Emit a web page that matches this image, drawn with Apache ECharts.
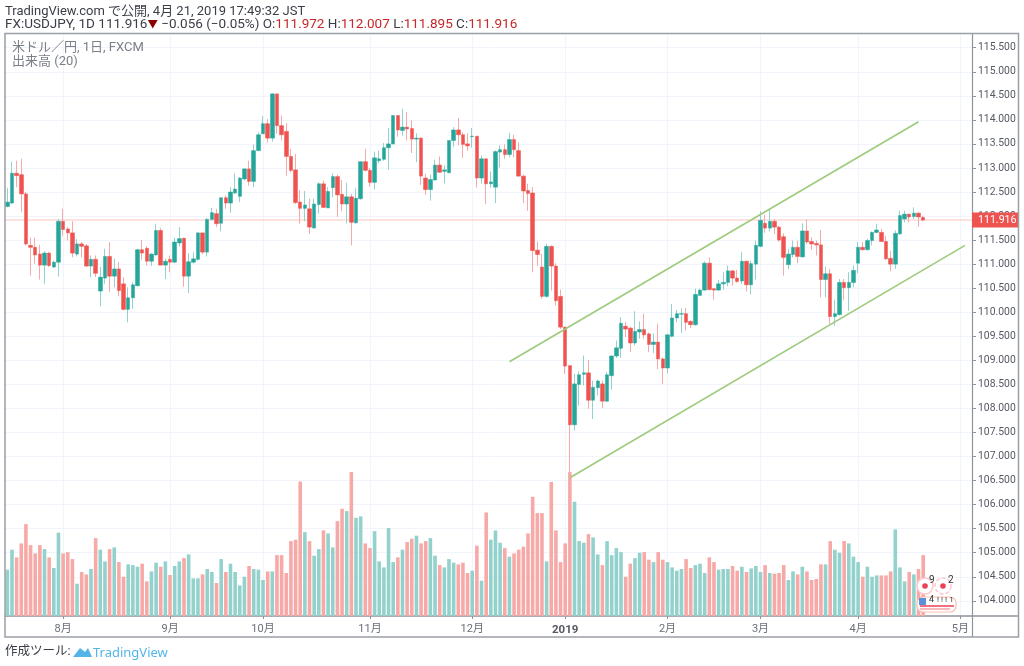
<!DOCTYPE html>
<html><head><meta charset="utf-8">
<style>html,body{margin:0;padding:0;background:#fff}#c{width:1024px;height:666px}</style>
<script src="https://cdn.jsdelivr.net/npm/echarts@6/dist/echarts.min.js"></script>
</head><body><div id="c"></div>
<script>
const open=[112.20,112.27,112.89,112.86,112.46,111.39,111.35,111.21,110.98,111.23,110.94,111.04,111.89,111.73,111.65,111.21,111.42,111.38,110.96,111.10,110.44,110.71,111.16,110.75,110.90,110.59,110.06,110.30,110.55,111.30,111.33,111.06,111.19,111.70,110.98,111.10,111.04,111.44,111.54,110.75,111.04,111.10,111.65,111.25,111.93,112.05,111.85,112.38,112.27,112.48,112.41,112.77,112.98,112.72,113.36,113.71,113.92,113.62,114.54,113.88,113.76,113.24,112.96,112.29,112.16,112.15,111.75,112.24,112.67,112.17,112.59,112.82,112.45,112.25,112.40,111.86,112.36,113.13,112.95,112.70,113.15,113.18,113.42,113.50,114.09,113.78,113.85,113.82,113.60,113.62,112.79,112.55,112.75,113.06,112.93,112.90,113.57,113.79,113.69,113.50,113.65,113.66,112.79,113.19,112.67,112.60,113.33,113.38,113.28,113.59,113.36,112.83,112.53,112.48,111.29,110.94,110.33,111.37,110.96,110.33,109.69,108.89,107.66,108.50,108.71,108.74,108.17,108.43,108.51,108.15,108.68,109.09,109.25,109.71,109.67,109.36,109.59,109.64,109.55,109.33,109.38,109.03,108.84,109.50,109.88,109.96,109.97,109.81,109.74,110.35,110.46,111.02,110.49,110.46,110.59,110.62,110.86,110.71,110.65,111.06,110.57,111.00,111.37,111.85,111.75,111.89,111.77,111.57,110.99,111.20,111.35,111.15,111.69,111.47,111.43,111.40,110.68,110.80,109.91,109.95,110.62,110.51,110.62,111.02,111.35,111.30,111.49,111.66,111.66,111.47,111.12,111.00,111.63,111.94,112.04,111.99,112.06,111.972];
const close=[112.29,112.89,112.84,112.46,111.42,111.35,111.19,110.98,111.23,110.97,111.04,111.89,111.72,111.65,111.23,111.42,111.37,110.96,111.10,110.81,110.73,111.16,110.75,110.90,110.45,110.06,110.30,110.57,111.30,111.23,111.06,111.21,111.70,110.98,111.06,111.04,111.46,111.53,110.75,111.05,111.11,111.65,111.25,111.93,112.07,111.84,112.38,112.27,112.50,112.56,112.79,112.98,112.72,113.36,113.69,113.92,113.62,114.54,113.88,113.69,113.24,112.95,112.28,112.16,112.23,111.77,112.25,112.67,112.18,112.51,112.82,112.44,112.25,112.40,111.87,112.37,113.13,112.95,112.70,113.21,113.19,113.42,113.50,114.09,113.79,113.85,113.81,113.60,113.62,112.83,112.55,112.76,113.06,112.91,112.96,113.57,113.79,113.69,113.49,113.46,113.66,112.79,113.19,112.67,112.71,113.34,113.38,113.28,113.59,113.38,112.83,112.52,112.47,111.28,111.20,110.33,111.37,110.96,110.24,109.69,108.88,107.66,108.51,108.70,108.74,108.17,108.44,108.57,108.15,108.70,109.09,109.26,109.77,109.65,109.36,109.60,109.64,109.53,109.33,109.38,109.03,108.84,109.53,109.88,109.97,109.97,109.79,109.74,110.37,110.46,111.02,110.47,110.46,110.59,110.62,110.86,110.71,110.64,111.06,110.57,111.01,111.39,111.91,111.75,111.89,111.77,111.50,111.14,111.21,111.35,111.16,111.69,111.46,111.42,111.40,110.68,110.80,109.91,109.97,110.62,110.51,110.62,110.87,111.35,111.30,111.49,111.66,111.71,111.47,111.11,111.00,111.64,112.01,112.04,111.98,112.06,111.98,111.916];
const low=[112.18,112.25,112.60,112.08,111.39,110.76,111.01,110.68,110.59,110.94,110.92,110.74,111.59,111.49,111.14,111.16,111.14,110.94,110.73,110.73,110.12,110.59,110.42,110.52,110.33,110.04,109.79,110.07,110.54,111.09,110.97,110.96,111.18,110.97,110.69,110.83,111.03,111.37,110.53,110.40,111.01,111.07,111.21,111.16,111.91,111.77,111.68,112.15,112.07,112.46,112.29,112.74,112.63,112.60,113.35,113.71,113.53,113.55,113.71,113.57,112.84,112.91,112.25,111.84,111.89,111.63,111.75,112.05,112.17,112.17,112.39,111.98,112.10,111.85,111.39,111.84,112.34,112.93,112.61,112.56,113.10,113.15,112.96,113.49,113.65,113.67,113.57,113.31,113.12,112.65,112.44,112.32,112.74,112.90,112.68,112.89,113.44,113.47,113.21,113.36,113.42,112.59,112.67,112.25,112.59,112.27,113.01,113.19,113.22,113.22,112.82,112.27,112.11,110.83,110.96,110.28,110.30,110.45,110.14,109.65,108.72,104.67,107.54,108.06,108.48,107.99,107.78,108.27,108.01,108.13,108.39,109.05,109.05,109.48,109.17,109.31,109.45,109.45,109.17,109.15,108.82,108.51,108.73,109.48,109.79,109.57,109.62,109.67,109.72,110.35,110.45,110.46,110.26,110.45,110.47,110.54,110.55,110.61,110.59,110.43,110.37,110.68,111.35,111.65,111.68,111.63,111.47,110.76,110.89,111.14,111.02,111.14,111.42,111.30,111.18,110.31,110.31,109.76,109.72,109.93,110.26,110.03,110.52,110.81,111.28,111.28,111.39,111.64,111.46,111.09,110.85,110.90,111.61,111.87,111.87,111.94,111.78,111.895];
const high=[112.58,113.13,113.15,113.19,112.50,111.55,111.55,111.40,111.27,111.25,111.07,111.94,112.15,111.77,111.89,111.52,111.46,111.42,111.18,111.18,110.94,111.32,111.46,111.11,111.04,110.73,110.52,110.62,111.32,111.50,111.37,111.23,111.84,111.75,111.11,111.18,111.55,111.77,111.54,111.23,111.25,111.66,111.65,111.96,112.17,112.15,112.39,112.43,112.60,112.89,112.81,112.99,113.15,113.49,113.74,114.08,114.02,114.55,114.54,114.09,113.93,113.40,113.29,112.54,112.52,112.36,112.36,112.70,112.74,112.60,112.89,112.86,112.75,112.69,112.46,112.58,113.13,113.40,113.00,113.34,113.36,113.52,113.83,114.09,114.09,114.23,114.16,114.00,113.72,113.64,112.88,112.86,113.17,113.24,113.05,113.57,113.85,114.04,113.74,113.72,113.83,113.66,113.26,113.19,112.93,113.36,113.47,113.49,113.73,113.69,113.53,112.86,112.67,112.60,111.47,111.21,111.42,111.39,111.02,110.47,109.70,108.89,108.72,108.77,109.10,109.01,108.58,108.60,108.58,108.75,109.10,109.41,109.90,109.79,109.70,110.02,109.81,109.97,109.58,109.56,109.76,109.06,109.55,110.17,110.05,110.08,110.09,109.83,110.49,110.49,111.06,111.14,110.49,110.67,110.83,110.97,110.88,110.88,111.25,111.07,111.07,111.49,112.10,112.03,112.15,111.94,111.80,111.64,111.32,111.49,111.49,111.85,111.93,111.56,111.49,111.71,110.95,110.90,110.26,110.69,110.69,110.83,110.97,111.46,111.46,111.53,111.68,111.84,111.73,111.59,111.28,111.70,112.11,112.11,112.04,112.18,112.08,112.007];
const volume=[463,663,586,726,919,709,626,709,669,586,480,833,626,639,569,323,440,416,470,779,663,546,669,686,539,393,516,509,493,523,346,446,533,493,546,410,500,546,579,616,376,376,416,470,440,330,569,440,523,440,306,393,500,470,463,360,446,446,609,609,430,749,763,1345,839,749,603,669,856,826,686,949,1072,1049,1439,982,996,726,679,849,546,486,879,539,586,663,739,773,803,726,749,779,603,509,486,569,533,516,533,430,453,703,353,1036,763,856,733,679,593,626,663,693,826,1192,1029,1029,546,1339,856,539,726,1439,1142,749,733,819,786,616,509,749,609,679,639,393,523,579,633,639,563,539,639,563,539,486,453,470,569,480,509,523,430,586,539,463,470,470,500,453,493,440,476,500,440,509,430,423,430,509,360,446,416,493,446,360,370,516,516,749,663,633,749,726,593,539,393,493,393,406,406,406,446,866,486,346,440,416,470,609];
const slotCount=208;
const categories=Array.from({length:slotCount},(_,i)=>String(i));
const monthIndex=[12,35,55,78,100,120,142,162,183,205];
const monthLabels=['8月','9月','10月','11月','12月','2019','2月','3月','4月','5月'];
const priceTicks=[104,104.5,105,105.5,106,106.5,107,107.5,108,108.5,109,109.5,110,110.5,111,111.5,112,112.5,113,113.5,114,114.5,115,115.5];
const lastPrice=111.916;
const channelUpper=[[108,108.97],[196,113.96]];
const channelLower=[[121,106.56],[206,111.39]];

const UP='#26a69a',DOWN='#ef5350',UPW='#93d2cc',DOWNW='#f7a9a7';
const isTick=i=>monthIndex.includes(Number(i));
const CJK='Roboto,"Noto Sans CJK JP",sans-serif';
const AX='Roboto,"Noto Sans CJK JP",sans-serif';
const N=open.length;
const wicks=[],bodies=[],vols=[];
for(let i=0;i<N;i++){
  wicks.push([open[i],close[i],low[i],high[i]]);
  bodies.push([open[i],close[i],Math.min(open[i],close[i]),Math.max(open[i],close[i])]);
  vols.push({value:volume[i],itemStyle:{color:close[i]>=open[i]?UPW:DOWNW}});
}
const chart=echarts.init(document.getElementById('c'),null,{renderer:'canvas'});
const txt=(x,y,text,size,fill,extra)=>({type:'text',x,y,silent:true,z:50,style:Object.assign({text,fill,font:`${size}px ${CJK}`,textVerticalAlign:'middle'},extra||{})});
const RD='#c62828',HD='#3a3e48';
const rs=(c)=>({fill:c,fontSize:13.5,fontFamily:CJK});
chart.setOption({
  animation:false,
  backgroundColor:'#ffffff',
  grid:{left:5,right:52,top:34,bottom:50,containLabel:false},
  xAxis:{type:'category',data:categories,boundaryGap:true,
    axisLine:{show:true,onZero:false,lineStyle:{color:'#8f939c',width:1.5}},
    axisTick:{show:true,alignWithLabel:true,length:3,interval:(i)=>isTick(i),lineStyle:{color:'#8f939c'}},
    axisLabel:{show:true,interval:(i)=>isTick(i),margin:8,color:'#6b6f79',fontSize:11,fontFamily:AX,
      formatter:(v)=>{const l=monthLabels[monthIndex.indexOf(Number(v))]||'';return l==='2019'?'{b|2019}':l;},
      rich:{b:{fontWeight:'bold',color:'#555963',fontSize:11.5,fontFamily:AX}}},
    splitLine:{show:true,alignWithLabel:true,interval:(i)=>isTick(i),lineStyle:{color:'#f1f4fa',width:1}}},
  yAxis:[
   {type:'value',position:'right',min:103.684,max:115.785,scale:true,
    axisLine:{show:true,lineStyle:{color:'#8f939c',width:1.2}},
    axisTick:{show:true,length:4,inside:false,customValues:priceTicks,lineStyle:{color:'#8f939c'}},
    axisLabel:{show:true,customValues:priceTicks,margin:6,color:'#555963',fontSize:10.4,fontFamily:AX,formatter:v=>v.toFixed(3)},
    splitLine:{show:true,lineStyle:{color:'#f1f4fa',width:1}}},
   {type:'value',show:false,min:0,max:5820,splitLine:{show:false}}
  ],
  series:[
   {name:'出来高',type:'bar',xAxisIndex:0,yAxisIndex:1,data:vols,barWidth:3.6,z:2},
   {name:'USDJPY wick',type:'candlestick',data:wicks,barWidth:1,z:3,
    itemStyle:{color:UPW,color0:DOWNW,borderColor:UPW,borderColor0:DOWNW,borderWidth:1},
    markLine:{silent:true,symbol:'none',z:1,data:[{yAxis:lastPrice}],
      lineStyle:{color:'#fcd8d6',type:'solid',width:1.6},
      label:{show:true,position:'end',distance:0,formatter:()=>lastPrice.toFixed(3),backgroundColor:'#ef5350',color:'#fff',
        fontSize:10.6,fontFamily:AX,width:40,height:15,lineHeight:15,align:'left',padding:[0,0,0,6]}}},
   {name:'USDJPY',type:'candlestick',data:bodies,barWidth:4,z:4,
    itemStyle:{color:UP,color0:DOWN,borderColor:UP,borderColor0:DOWN,borderWidth:0.5}},
   {name:'upper',type:'line',data:channelUpper,showSymbol:false,symbol:'none',z:5,lineStyle:{color:'#9fcb7e',width:1.7}},
   {name:'lower',type:'line',data:channelLower,showSymbol:false,symbol:'none',z:5,lineStyle:{color:'#9fcb7e',width:1.7}}
  ],
  graphic:[
   {type:'rect',silent:true,z:40,shape:{x:5,y:33.5,width:1013.5,height:603.5},style:{fill:null,stroke:'#9a9ea7',lineWidth:1.5}},
   {type:'line',silent:true,z:40,shape:{x1:972.5,y1:616,x2:972.5,y2:637},style:{stroke:'#8f939c',lineWidth:1.2}},
   {type:'line',silent:true,z:40,shape:{x1:972,y1:616,x2:1018,y2:616},style:{stroke:'#8f939c',lineWidth:1.5}},
   txt(5,12,'TradingView.com で公開, 4月 21, 2019 17:49:32 JST',13,HD),
   {type:'text',x:5,y:25,silent:true,z:50,style:{textVerticalAlign:'middle',
     text:'{a|FX:USDJPY, 1D 111.916}{t|▼}{a| −0.056 (−0.05%) O:}{r|111.972}{a| H:}{r|112.007}{a| L:}{r|111.895}{a| C:}{r|111.916}',
     rich:{a:rs(HD),r:rs(RD),t:{fill:'#8b0000',fontSize:10.5,fontFamily:CJK}}}},
   txt(12,48,'米ドル／円, 1日, FXCM',13,'#7b7f88'),
   txt(12,62,'出来高 (20)',13,'#7b7f88'),
   txt(5,652,'作成ツール:',12.5,'#3a3e48'),
   {type:'polygon',silent:true,z:50,shape:{points:[[73,657],[80,648],[85,652],[88,648],[92,657]]},style:{fill:'#54b4e8'}},
   txt(93,653,'TradingView',13,'#54b4e8',{font:'13px "Noto Sans",sans-serif'}),
   {type:'circle',silent:true,z:30,shape:{cx:925,cy:586,r:8},style:{fill:'#fff',stroke:'#fbc9cf',lineWidth:1.5}},
   {type:'circle',silent:true,z:31,shape:{cx:925,cy:586,r:2.8},style:{fill:'#ee4056'}},
   {type:'circle',silent:true,z:30,shape:{cx:943,cy:586,r:8},style:{fill:'#fff',stroke:'#fbc9cf',lineWidth:1.5,lineDash:[4,2]}},
   {type:'circle',silent:true,z:31,shape:{cx:943,cy:586,r:2.8},style:{fill:'#ee4056'}},
   txt(929,580,'9',10,'#333'),txt(948,580,'2',10,'#333'),
   {type:'rect',silent:true,z:30,shape:{x:917,y:597,width:39,height:15,r:6},style:{fill:'#fff',stroke:'#f9c0b0',lineWidth:1.2}},
   {type:'rect',silent:true,z:31,shape:{x:919,y:598,width:7,height:7},style:{fill:'#5b8fd8'}},
   {type:'line',silent:true,z:31,shape:{x1:920,y1:606,x2:954,y2:606},style:{stroke:'#ee4056',lineWidth:1.5}},
   {type:'line',silent:true,z:31,shape:{x1:920,y1:609,x2:950,y2:609},style:{stroke:'#f7a0a6',lineWidth:1.5}},
   txt(929,600,'4',9,'#333'),txt(937,600,'! ! ! 1',8,'#333')
  ]
});
</script></body></html>
